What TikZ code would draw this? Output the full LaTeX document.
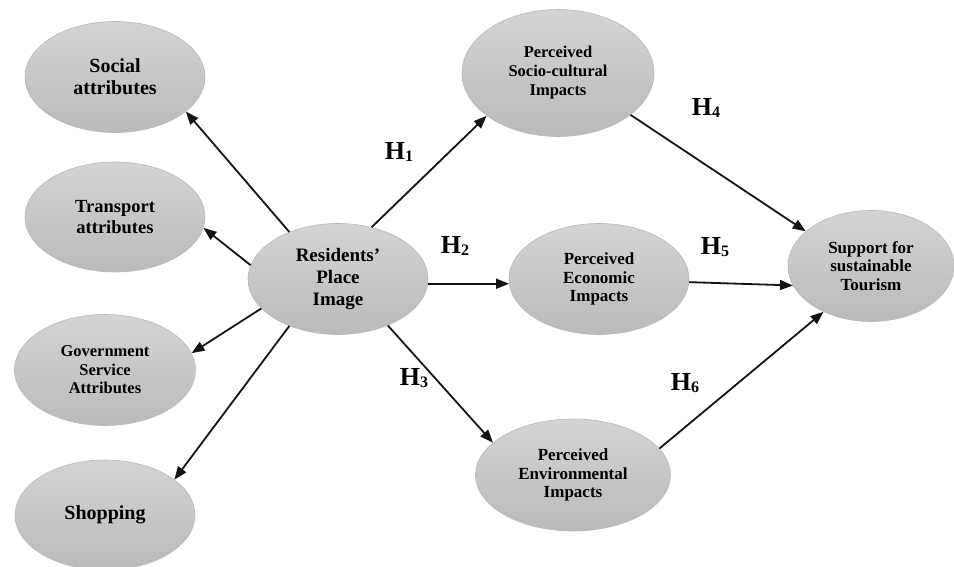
\documentclass[tikz,border=0pt]{standalone}
\usepackage{fontspec}
\setmainfont{Liberation Serif}
\usetikzlibrary{shapes.geometric,arrows.meta}
\newcommand\Hsub[1]{H\raisebox{-1.5pt}{\fontsize{16}{16}\selectfont #1}}
\begin{document}
\begin{tikzpicture}[x=1pt,y=-1pt,
 ell/.style={ellipse, draw=black!28, line width=0.6pt, top color=black!17, bottom color=black!27, inner sep=0pt, align=center, text=black},
 conn/.style={line width=1.8pt, black!92, -{Triangle[length=13pt,width=10pt]}},
 hlab/.style={font=\bfseries\fontsize{26}{26}\selectfont, text=black}]
\useasboundingbox (0,0) rectangle (954,567);

\node[ell, minimum width=180pt, minimum height=111pt, font=\bfseries\fontsize{20}{22}\selectfont] (soc) at (115,77) {Social\\attributes};
\node[ell, minimum width=180pt, minimum height=110pt, font=\bfseries\fontsize{18.5}{21}\selectfont] (tra) at (115,217) {Transport\\attributes};
\node[ell, minimum width=181pt, minimum height=111pt, font=\bfseries\fontsize{16.5}{18.5}\selectfont] (gov) at (105,370) {Government\\Service\\Attributes};
\node[ell, minimum width=180pt, minimum height=110pt, font=\bfseries\fontsize{20}{22}\selectfont] (sho) at (105,515) {Shopping};
\node[ell, minimum width=180pt, minimum height=111pt, font=\bfseries\fontsize{19}{22}\selectfont] (res) at (338,279) {Residents'\\Place\\Image};
\node[ell, minimum width=192pt, minimum height=127pt, font=\bfseries\fontsize{16.5}{19}\selectfont] (scu) at (558,73) {Perceived\\Socio-cultural\\Impacts};
\node[ell, minimum width=180pt, minimum height=111pt, font=\bfseries\fontsize{17}{18.5}\selectfont] (eco) at (599,279) {Perceived\\Economic\\Impacts};
\node[ell, minimum width=195pt, minimum height=112pt, font=\bfseries\fontsize{17}{18.5}\selectfont] (env) at (573,475) {Perceived\\Environmental\\Impacts};
\node[ell, minimum width=166pt, minimum height=111pt, font=\bfseries\fontsize{17}{18.5}\selectfont] (sup) at (871,266) {Support for\\sustainable\\Tourism};

\draw[conn] (res.136) -- (soc.-26);
\draw[conn] (res.171) -- (tra.-7);
\draw[conn] (res.201) -- (gov.11);
\draw[conn] (res.224) -- (sho.27);
\draw[conn] (res.57) -- (scu.211);
\draw[conn] (res.-3) -- (eco.183);
\draw[conn] (res.-43) -- (env.158);
\draw[conn] (scu.-30) -- (sup.152);
\draw[conn] (eco.-2) -- (sup.194);
\draw[conn] (env.17) -- (sup.224);

\node[hlab] (h1) at (399,152) {\Hsub{1}};
\node[hlab] (h2) at (455,246) {\Hsub{2}};
\node[hlab] (h3) at (414,378) {\Hsub{3}};
\node[hlab] (h4) at (706,108) {\Hsub{4}};
\node[hlab] (h5) at (715,247) {\Hsub{5}};
\node[hlab] (h6) at (685,383) {\Hsub{6}};
\end{tikzpicture}
\end{document}
